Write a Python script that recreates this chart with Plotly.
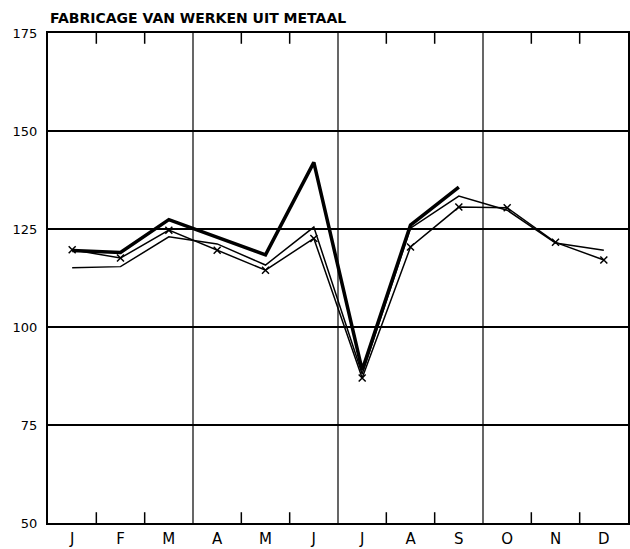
import plotly.graph_objects as go

months = ["J", "F", "M", "A", "M", "J", "J", "A", "S", "O", "N", "D"]
x_pos = [i + 0.5 for i in range(12)]

thick_vals = [119.5, 119.0, 127.4, 123.0, 118.4, 142.0, 89.0, 126.0, 135.7]
cross_vals = [119.7, 117.6, 124.7, 119.6, 114.5, 122.6, 87.0, 120.4, 130.6, 130.4, 121.6, 117.1]
plain_vals = [115.1, 115.4, 123.0, 121.2, 115.8, 125.5, 88.0, 125.2, 133.4, 129.8, 121.4, 119.6]

y_ticks = [50, 75, 100, 125, 150, 175]
title = "FABRICAGE VAN WERKEN UIT METAAL"

fig = go.Figure()
fig.add_trace(go.Scatter(x=x_pos, y=plain_vals, mode="lines",
                         line=dict(color="black", width=1.5), showlegend=False))
fig.add_trace(go.Scatter(x=x_pos, y=cross_vals, mode="lines+markers",
                         line=dict(color="black", width=1.5),
                         marker=dict(symbol="x-thin", size=7, line=dict(width=1.5, color="black")),
                         showlegend=False))
fig.add_trace(go.Scatter(x=x_pos[:len(thick_vals)], y=thick_vals, mode="lines",
                         line=dict(color="black", width=3.5), showlegend=False))

shapes = []
for q in [3, 6, 9]:
    shapes.append(dict(type="line", xref="x", yref="paper", x0=q, x1=q, y0=0, y1=1,
                       line=dict(color="black", width=1.2), layer="below"))
for m in range(1, 12):
    if m % 3 == 0:
        continue
    shapes.append(dict(type="line", xref="x", yref="paper", x0=m, x1=m, y0=0, y1=0.022,
                       line=dict(color="black", width=1.5)))
    shapes.append(dict(type="line", xref="x", yref="paper", x0=m, x1=m, y0=0.978, y1=1,
                       line=dict(color="black", width=1.5)))

fig.update_layout(
    width=630, height=549,
    margin=dict(l=48, r=2, t=33, b=26),
    paper_bgcolor="white", plot_bgcolor="white",
    font=dict(family="DejaVu Sans", color="black", size=13),
    shapes=shapes,
    annotations=[dict(text="<b>" + title + "</b>", x=0, y=1, xref="paper", yref="paper",
                      xanchor="left", yanchor="bottom", yshift=5, showarrow=False,
                      font=dict(size=14, family="DejaVu Sans", color="black"))],
    xaxis=dict(range=[0, 12], tickvals=x_pos, ticktext=months, ticks="",
               showgrid=False, zeroline=False, showline=True, mirror=True,
               linecolor="black", linewidth=2, tickfont=dict(size=15),
               automargin=False, ticklabelstandoff=1),
    yaxis=dict(range=[50, 175], tickvals=y_ticks, ticks="", showgrid=True,
               gridcolor="black", gridwidth=2, zeroline=False, showline=True,
               mirror=True, linecolor="black", linewidth=2, ticklabelstandoff=6,
               tickfont=dict(size=13), automargin=False),
)

fig.write_html("out.html", config={"displayModeBar": False},
               post_script="document.body.style.margin='0';document.body.style.overflow='hidden';")
